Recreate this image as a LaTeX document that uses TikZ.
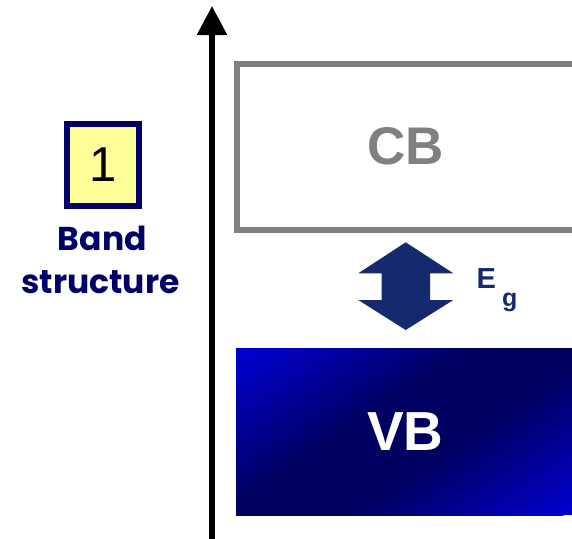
\documentclass[tikz,border=0pt]{standalone}
\usepackage{fontspec}
\setmainfont{Liberation Sans}
\newfontfamily\comicfont{Poppins}
\usetikzlibrary{arrows.meta}
\definecolor{navy}{RGB}{0,0,102}
\definecolor{arrownavy}{RGB}{21,41,110}
\definecolor{cbgray}{RGB}{128,128,128}
\definecolor{vbblue}{RGB}{0,0,204}
\definecolor{vbdark}{RGB}{0,0,96}
\definecolor{numfill}{RGB}{255,255,153}
\tikzset{
  bandbox/.style={draw=cbgray, line width=6pt, fill=white, minimum width=338pt, minimum height=165.5pt, inner sep=0pt,
    text=cbgray, font=\fontsize{53}{53}\selectfont\bfseries},
  vbbox/.style={minimum width=339pt, minimum height=167pt, inner sep=0pt, text=white, font=\fontsize{55}{55}\selectfont\bfseries},
  vbcanvas/.style={transform canvas={shift={(410,431.5)}, rotate=33.7}},
  numbox/.style={draw=navy, line width=6pt, fill=numfill, minimum width=71.7pt, minimum height=82.6pt, inner sep=0pt,
    font=\fontsize{49}{49}\selectfont},
  bandlabel/.style={text=navy, inner sep=0pt, anchor=base, font=\comicfont\bfseries\fontsize{33}{33}\selectfont},
  eglabel/.style={text=arrownavy, inner sep=0pt, anchor=base west, font=\fontsize{29}{29}\selectfont\bfseries},
  axis/.style={line width=5.5pt, -{Triangle[width=29pt,length=29pt]}}
}
\begin{document}
\begin{tikzpicture}[x=1pt,y=-1pt]
\useasboundingbox (0,0) rectangle (572,538);
% energy axis
\coordinate (axbot) at (212,545);
\coordinate (axtop) at (212,6);
\draw[axis] (axbot) -- (axtop);
% conduction band
\node[bandbox] (cb) at (406,146.75) {CB};
% valence band with diagonal gradient
\begin{scope}
  \clip (236,348) rectangle (575,515);
  \fill[vbblue] (236,348) rectangle (575,515);
  \shade[vbcanvas, top color=vbblue, bottom color=vbdark] (-300,-155) rectangle (300,-34);
  \shade[vbcanvas, top color=vbdark, bottom color=vbblue] (-300,34) rectangle (300,155);
  \fill[vbcanvas, vbdark] (-300,-35) rectangle (300,35);
\end{scope}
\node[vbbox] (vb) at (405.5,431.5) {VB};
% gap arrow
\fill[arrownavy] (405.7,242.3) -- (453.3,273.3) -- (430,273.3) -- (430,300) -- (453.3,300)
  -- (405.7,330) -- (358.3,300) -- (381.7,300) -- (381.7,273.3) -- (358.3,273.3) -- cycle;
\node[eglabel] (eg) at (476.5,288.3) {E\hspace{6pt}\raisebox{-18.2pt}{\fontsize{25}{25}\selectfont g}};
% label
\node[numbox] (num) at (102.8,165) {1};
\node[bandlabel] (band) at (102.4,250) {Band};
\node[bandlabel] (struct) at (100.5,293) {structure};
\end{tikzpicture}
\end{document}
